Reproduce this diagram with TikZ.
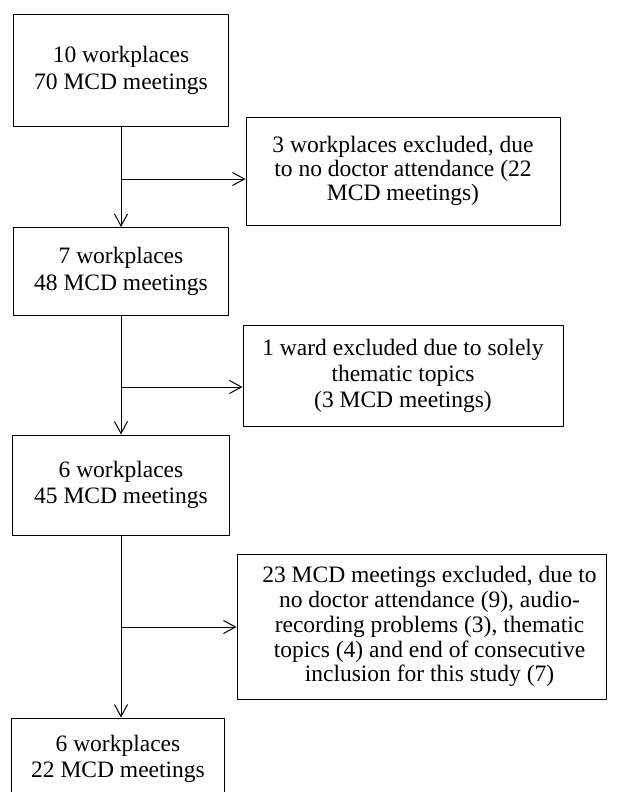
\documentclass[tikz,border=0pt]{standalone}
\usepackage{fontspec}
\setmainfont{Liberation Serif}
\usetikzlibrary{arrows.meta,positioning}

\begin{document}
\begin{tikzpicture}[x=1bp, y=-1bp, line join=round,
    box/.style={draw, line width=1bp, inner sep=0pt, align=center,
        font=\fontsize{23.6}{26.5}\selectfont},
    txt/.style={inner sep=0pt, align=center, font=\fontsize{23.6}{25}\selectfont},
    flow/.style={line width=1bp, -{Straight Barb[length=12bp, width=13bp]}}]
    \useasboundingbox (0,0) rectangle (619,792);
    \clip (0,0) rectangle (619,792);

    % Main column
    \node[box, minimum width=214bp, minimum height=111bp] (wpA) at (121,70.5)
        {10 workplaces\\70 MCD meetings};
    \node[box, minimum width=215bp, minimum height=88bp] (wpB) at (121,271.5)
        {7 workplaces\\48 MCD meetings};
    \node[box, minimum width=216bp, minimum height=100bp] (wpC) at (121,485)
        {6 workplaces\\45 MCD meetings};
    \node[box, minimum width=212bp, minimum height=82bp] (wpD) at (118,759)
        {6 workplaces\\22 MCD meetings};

    % Exclusion boxes
    \node[box, font=\fontsize{23.6}{24}\selectfont,
        minimum width=314bp, minimum height=108bp] (exA) at (403,171)
        {3 workplaces excluded, due\\to no doctor attendance (22\\MCD meetings)};
    \node[box, font=\fontsize{23.6}{26}\selectfont,
        minimum width=320bp, minimum height=101bp] (exB) at (403,375.5)
        {1 ward excluded due to solely\\thematic topics\\(3 MCD meetings)};
    \node[box, minimum width=369bp, minimum height=145bp] (exC) at (421.5,626.5) {};
    \node[txt, xshift=8bp] (exCtext) at (exC.center)
        {23 MCD meetings excluded, due to\\no doctor attendance (9), audio-\\recording problems (3), thematic\\topics (4) and end of consecutive\\inclusion for this study (7)};

    % Branch points
    \coordinate (jA) at (121,179);
    \coordinate (jB) at (121,387);
    \coordinate (jC) at (121,627);

    % Arrows
    \draw[flow] (wpA) -- (wpB);
    \draw[flow] (wpB) -- (wpC);
    \draw[flow] (wpC.south) -- (wpC.south |- wpD.north);
    \draw[flow] (jA) -- (jA -| exA.west);
    \draw[flow] (jB) -- (jB -| exB.west);
    \draw[flow] (jC) -- (jC -| exC.west);
\end{tikzpicture}
\end{document}
